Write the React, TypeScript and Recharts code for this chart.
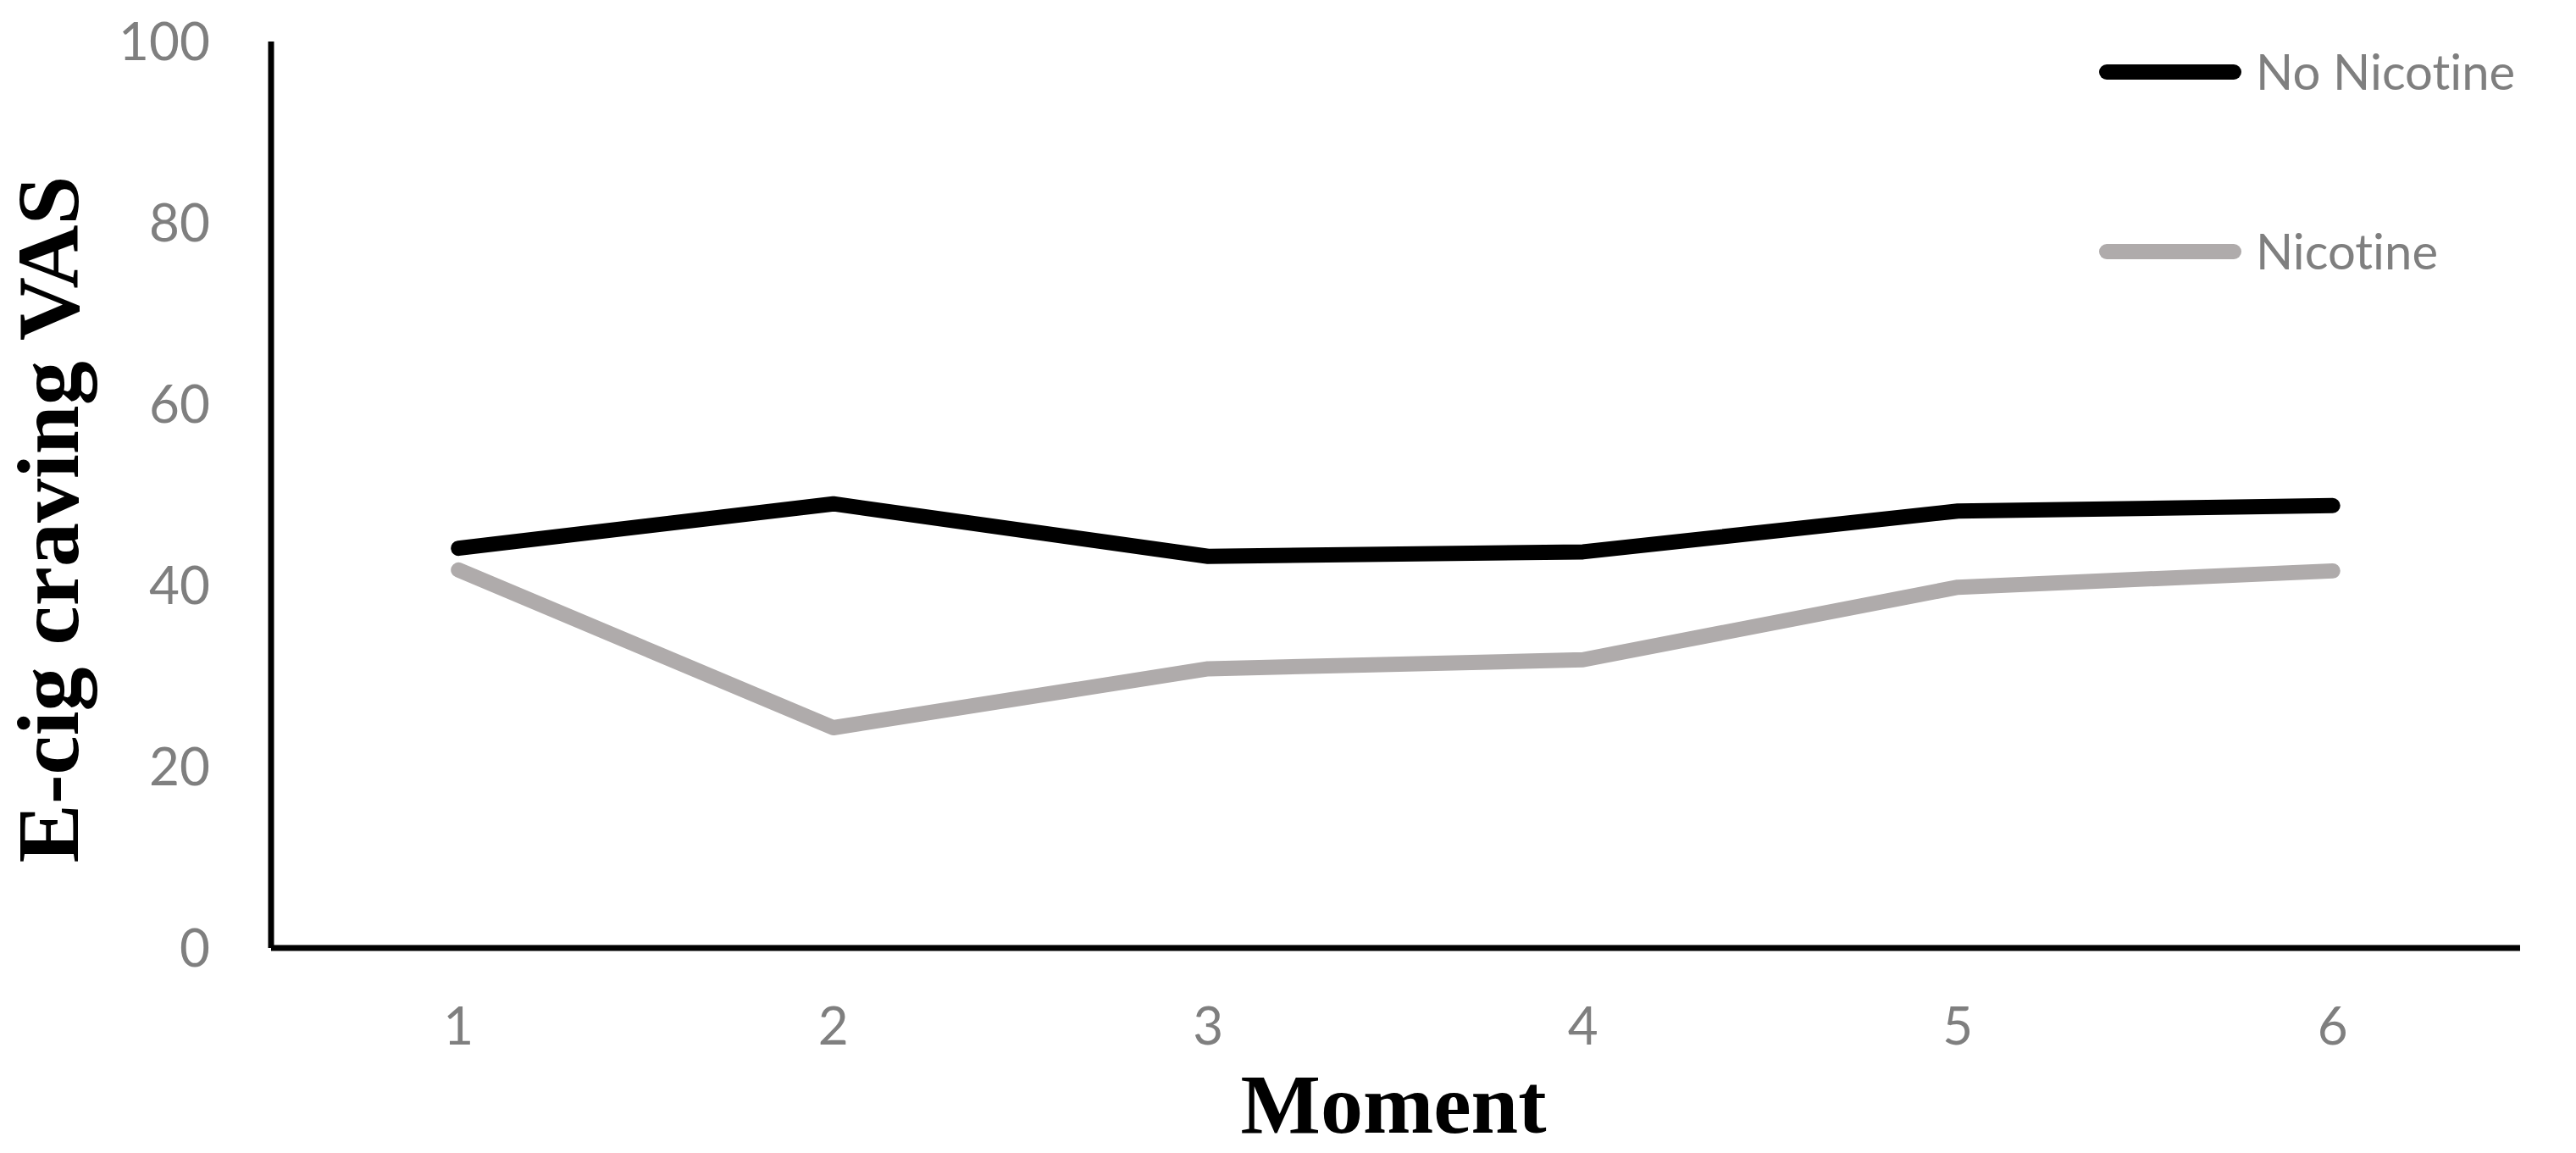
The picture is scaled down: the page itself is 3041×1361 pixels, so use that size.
import { LineChart, Line, XAxis, YAxis, Legend, Label } from "recharts";

const moments = ["1", "2", "3", "4", "5", "6"];
const noNicotine = [44.1, 49.0, 43.2, 43.7, 48.2, 48.8];
const nicotine = [41.7, 24.3, 30.8, 31.8, 39.8, 41.6];
const yTicks = [0, 20, 40, 60, 80, 100];

const seriesNames = ["No Nicotine", "Nicotine"];
const seriesColors = ["#000000", "#AFABAB"];

const chartData = moments.map((m, i) => ({
  moment: m,
  noNicotine: noNicotine[i],
  nicotine: nicotine[i],
}));

const tickStyle = { fontSize: 62, fill: "#7F7F7F", fontFamily: "Lato" };

function LegendBox(props: any) {
  // keep the series order, not alphabetical
  const items = [...(props.payload || [])].sort(
    (a: any, b: any) => seriesNames.indexOf(a.value) - seriesNames.indexOf(b.value)
  );
  return (
    <svg width={581} height={360}>
      {items.map((item: any, i: number) => {
        const cy = 85 + i * 212;
        return (
          <g key={item.value}>
            <line
              x1={36}
              x2={186}
              y1={cy}
              y2={cy}
              stroke={item.color}
              strokeWidth={18}
              strokeLinecap="round"
            />
            <text
              x={212}
              y={cy}
              dy="0.36em"
              fontSize={58}
              fill="#7F7F7F"
              fontFamily="Lato"
              style={{ fontVariantLigatures: "none" }}
            >
              {item.value}
            </text>
          </g>
        );
      })}
    </svg>
  );
}

export default function App() {
  return (
    <div style={{ position: "absolute", left: 0, top: 0, width: 3041, height: 1361, background: "#fff" }}>
      <LineChart
        width={3041}
        height={1361}
        data={chartData}
        margin={{ top: 49, right: 66, bottom: 0, left: 160 }}
      >
        <XAxis
          dataKey="moment"
          scale="band"
          height={242}
          tick={tickStyle}
          tickSize={0}
          tickMargin={70}
          axisLine={{ stroke: "#000", strokeWidth: 7 }}
          tickLine={false}
        >
          <Label
            content={() => (
              <text
                x={1645}
                y={1337}
                textAnchor="middle"
                fontSize={100}
                fontWeight="bold"
                fontFamily="Liberation Serif"
                fill="#000"
              >
                Moment
              </text>
            )}
          />
        </XAxis>
        <YAxis
          width={160}
          domain={[0, 100]}
          ticks={yTicks}
          tick={tickStyle}
          tickSize={0}
          tickMargin={72}
          axisLine={{ stroke: "#000", strokeWidth: 7 }}
          tickLine={false}
        >
          <Label
            content={() => (
              <text
                x={92}
                y={613}
                transform="rotate(-90, 92, 613)"
                textAnchor="middle"
                fontSize={104}
                fontWeight="bold"
                fontFamily="Liberation Serif"
                fill="#000"
              >
                E-cig craving VAS
              </text>
            )}
          />
        </YAxis>
        <Legend
          layout="horizontal"
          align="center"
          verticalAlign="middle"
          content={LegendBox}
          wrapperStyle={{ position: "absolute", left: 2451, top: 0, width: 581, height: 360 }}
        />
        <Line
          type="linear"
          dataKey="noNicotine"
          name={seriesNames[0]}
          stroke={seriesColors[0]}
          strokeWidth={18}
          strokeLinecap="round"
          strokeLinejoin="round"
          dot={false}
          activeDot={false}
          isAnimationActive={false}
        />
        <Line
          type="linear"
          dataKey="nicotine"
          name={seriesNames[1]}
          stroke={seriesColors[1]}
          strokeWidth={18}
          strokeLinecap="round"
          strokeLinejoin="round"
          dot={false}
          activeDot={false}
          isAnimationActive={false}
        />
      </LineChart>
    </div>
  );
}
